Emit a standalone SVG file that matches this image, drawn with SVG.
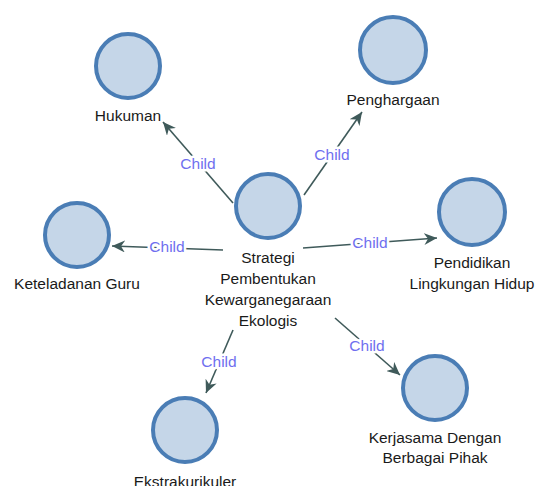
<svg xmlns="http://www.w3.org/2000/svg" width="539" height="486" viewBox="0 0 539 486">
<style>
.node circle{fill:#c5d6e8;stroke:#4a7db5;stroke-width:4}
.node text{font-family:"Liberation Sans",Arial,sans-serif;font-size:15.5px;fill:#1a1a1a;text-anchor:middle}
.edge{stroke:#3f5a5a;stroke-width:1.6;fill:none;marker-end:url(#arr)}
.lbl{font-family:"Liberation Sans",Arial,sans-serif;font-size:15.5px;fill:#6f6fef;text-anchor:middle;stroke:#fff;stroke-width:5;paint-order:stroke;stroke-linejoin:round}
</style>
<defs>
<marker id="arr" markerUnits="userSpaceOnUse" markerWidth="14" markerHeight="12" refX="13" refY="6" orient="auto">
<path d="M0,0 L13,6 L0,12 L4,6 z" fill="#3f5a5a"/>
</marker>
</defs>
<rect width="539" height="486" fill="#fff"/>
<g id="connectors">
<line class="edge" x1="233" y1="203" x2="163" y2="122"/>
<line class="edge" x1="304" y1="195" x2="362" y2="112"/>
<line class="edge" x1="223" y1="250" x2="112" y2="246"/>
<line class="edge" x1="303" y1="248" x2="437" y2="238"/>
<line class="edge" x1="233" y1="330" x2="206" y2="393"/>
<line class="edge" x1="335" y1="318" x2="400" y2="375"/>
<text class="lbl" x="198" y="169">Child</text>
<text class="lbl" x="332" y="160">Child</text>
<text class="lbl" x="167" y="252">Child</text>
<text class="lbl" x="370" y="248">Child</text>
<text class="lbl" x="219" y="367">Child</text>
<text class="lbl" x="367" y="351">Child</text>
</g>
<g id="center" class="node">
<circle cx="268" cy="206" r="32"/>
<text x="268" y="263">Strategi</text>
<text x="268" y="284">Pembentukan</text>
<text x="268" y="305">Kewarganegaraan</text>
<text x="268" y="326">Ekologis</text>
</g>
<g id="hukuman" class="node">
<circle cx="128" cy="66" r="32"/>
<text x="128" y="121">Hukuman</text>
</g>
<g id="penghargaan" class="node">
<circle cx="393" cy="50" r="33"/>
<text x="393" y="105">Penghargaan</text>
</g>
<g id="keteladanan" class="node">
<circle cx="77" cy="235" r="32"/>
<text x="77" y="289">Keteladanan Guru</text>
</g>
<g id="pendidikan" class="node">
<circle cx="472" cy="212" r="33"/>
<text x="472" y="268">Pendidikan</text>
<text x="472" y="289">Lingkungan Hidup</text>
</g>
<g id="ekstrakurikuler" class="node">
<circle cx="185" cy="430" r="32"/>
<text x="185" y="487">Ekstrakurikuler</text>
</g>
<g id="kerjasama" class="node">
<circle cx="435" cy="388" r="32"/>
<text x="435" y="443">Kerjasama Dengan</text>
<text x="435" y="463">Berbagai Pihak</text>
</g>
</svg>
